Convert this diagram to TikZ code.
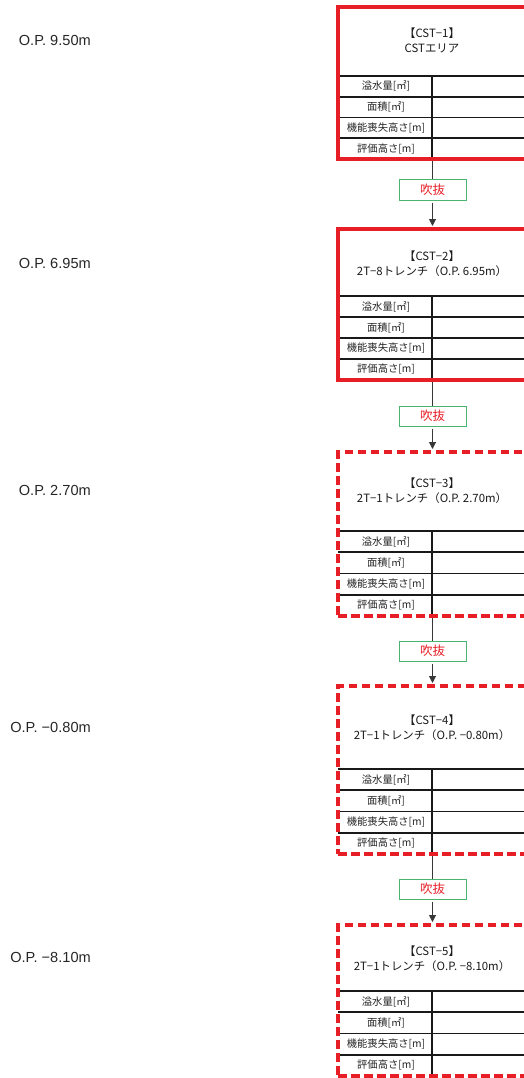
\documentclass[tikz,border=0pt]{standalone}
\usepackage{fontspec}
\setmainfont{Liberation Sans}
\newfontfamily\jpfont{Noto Sans CJK JP}
\usetikzlibrary{arrows.meta}
\definecolor{cstred}{RGB}{232,30,38}
\definecolor{hgreen}{RGB}{72,180,110}
\definecolor{connc}{RGB}{55,55,55}
\tikzset{
  oplabel/.style={anchor=base east, font=\fontsize{14.6}{16}\selectfont, inner sep=0pt, text=black!85},
  solidframe/.style={draw=cstred, line width=4.6pt},
  dashframe/.style={draw=cstred, line width=3.5pt, dash pattern=on 8.5pt off 4.5pt},
  frameshape/.style={rectangle, anchor=north west, minimum width=192pt, inner sep=0pt, outer sep=0pt},
  tabline/.style={draw=black!90, line width=1.8pt},
  rowlabel/.style={font=\jpfont\fontsize{10.3}{12}\selectfont, inner sep=0pt, text=black!85},
  titletext/.style={font=\jpfont\fontsize{11.4}{15}\selectfont, align=center, inner sep=0pt, text=black!90},
  fukinuke/.style={draw=hgreen, line width=1pt, minimum width=67pt, minimum height=20pt, inner sep=0pt, text=cstred, font=\jpfont\fontsize{12.5}{14}\selectfont},
  connector/.style={draw=connc, line width=1pt, shorten <=2pt},
  arrowconn/.style={connector, shorten >=3pt, -{Triangle[length=7pt,width=7pt]}},
}
% #1 name, #2 frame style, #3 top, #4 table top, #5 bottom, #6 title middle, #7 title
\newcommand\cstbox[7]{%
  \pgfmathsetmacro\rh{(#5-#4)/4}%
  \foreach \k in {0,1,2,3}{\draw[tabline] (338,{#4+\k*\rh}) -- (530,{#4+\k*\rh});}
  \draw[tabline] (432,#4) -- (432,#5);
  \node[rowlabel] (#1-r1) at (386,{#4+0.5*\rh}) {溢水量[㎡]};
  \node[rowlabel] (#1-r2) at (386,{#4+1.5*\rh}) {面積[㎡]};
  \node[rowlabel] (#1-r3) at (386,{#4+2.5*\rh}) {機能喪失高さ[m]};
  \node[rowlabel] (#1-r4) at (386,{#4+3.5*\rh}) {評価高さ[m]};
  \node[titletext] (#1-t) at (432,#6) {#7};
  \node[frameshape, #2, minimum height={(#5-#3)*1pt}] (#1) at (338,#3) {};
}
\begin{document}
\begin{tikzpicture}[x=1pt,y=-1pt]
\useasboundingbox (0,0) rectangle (524,1078);
\clip (0,0) rectangle (524,1078);

% level labels
\node[oplabel] (op1) at (91,46) {O.P. 9.50m};
\node[oplabel] (op2) at (91,268) {O.P. 6.95m};
\node[oplabel] (op3) at (91,495) {O.P. 2.70m};
\node[oplabel] (op4) at (91,732) {O.P. −0.80m};
\node[oplabel] (op5) at (91,962) {O.P. −8.10m};

% boxes
\cstbox{b1}{solidframe}{7}{76}{159}{40.5}{【CST−1】\\CSTエリア}
\cstbox{b2}{solidframe}{229}{296}{380}{263.5}{【CST−2】\\2T−8トレンチ（O.P. 6.95m）}
\cstbox{b3}{dashframe}{452}{531}{616}{491}{【CST−3】\\2T−1トレンチ（O.P. 2.70m）}
\cstbox{b4}{dashframe}{686}{769}{854}{727.5}{【CST−4】\\2T−1トレンチ（O.P. −0.80m）}
\cstbox{b5}{dashframe}{925}{991}{1076}{958.5}{【CST−5】\\2T−1トレンチ（O.P. −8.10m）}

% fukinuke boxes
\node[fukinuke] (g1) at (432.5,190) {吹抜};
\node[fukinuke] (g2) at (432.5,416) {吹抜};
\node[fukinuke] (g3) at (432.5,651) {吹抜};
\node[fukinuke] (g4) at (432.5,889) {吹抜};

% connectors
\foreach \a/\g/\b in {b1/g1/b2, b2/g2/b3, b3/g3/b4, b4/g4/b5}{
  \draw[connector] (\g.north |- \a.south) -- (\g.north);
  \draw[arrowconn] (\g.south) -- (\g.south |- \b.north);
}
\end{tikzpicture}
\end{document}
